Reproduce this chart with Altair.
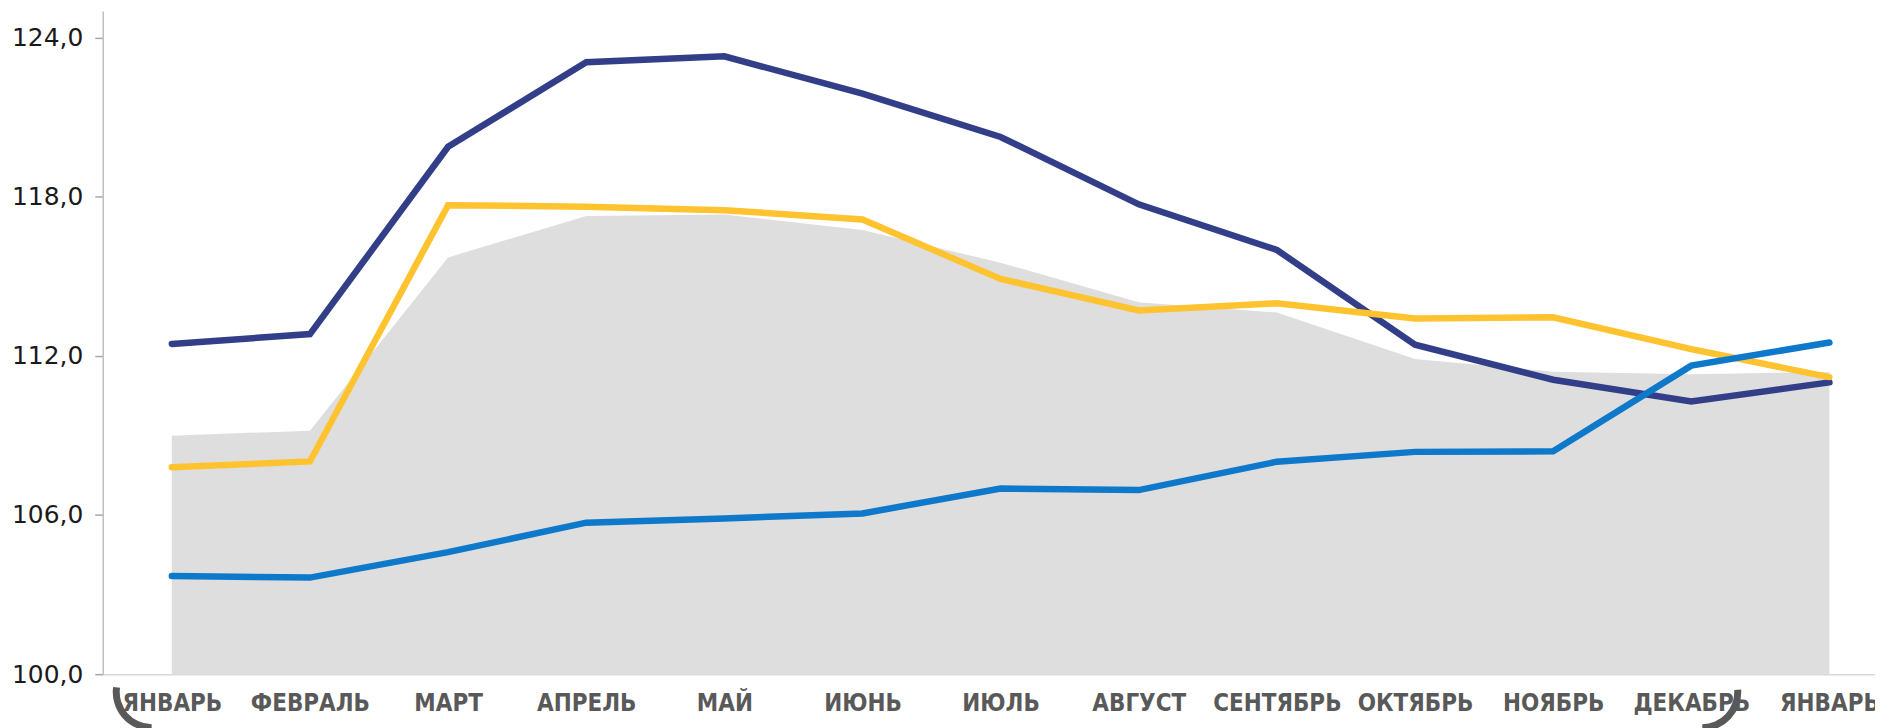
import json
import math
import altair as alt
import pandas as pd

# ---- data ----
months = ["ЯНВАРЬ", "ФЕВРАЛЬ", "МАРТ", "АПРЕЛЬ", "МАЙ", "ИЮНЬ", "ИЮЛЬ",
          "АВГУСТ", "СЕНТЯБРЬ", "ОКТЯБРЬ", "НОЯБРЬ", "ДЕКАБРЬ", "ЯНВАРЬ"]
series_navy = [112.45, 112.82, 119.88, 123.07, 123.29, 121.88, 120.25,
               117.71, 115.99, 112.42, 111.10, 110.28, 111.00]
series_yellow = [107.80, 108.02, 117.68, 117.62, 117.49, 117.14, 114.90,
                 113.71, 113.98, 113.41, 113.45, 112.25, 111.20]
series_blue = [103.70, 103.64, 104.60, 105.71, 105.87, 106.06, 107.00,
               106.94, 108.01, 108.38, 108.40, 111.63, 112.50]
series_gray = [108.99, 109.18, 115.71, 117.27, 117.33, 116.74, 115.51,
               114.02, 113.63, 111.88, 111.40, 111.31, 111.39]
y_ticks = [100, 106, 112, 118, 124]

# decorative bracket arcs around the month labels (centre in category units)
bracket_i = [-0.146, 11.08]
bracket_side = ["left", "right"]

idx = list(range(len(months)))
df = pd.DataFrame({
    "i": idx,
    "month": months,
    "navy": series_navy,
    "yellow": series_yellow,
    "blue": series_blue,
    "gray": series_gray,
})

month_js = json.dumps(months, ensure_ascii=False)

x_scale = alt.Scale(domain=[-0.5, 12.33], nice=False, zero=False)
y_scale = alt.Scale(domain=[100, 125], nice=False, zero=False)

x_enc = alt.X(
    "i:Q",
    scale=x_scale,
    axis=alt.Axis(
        values=idx,
        labelExpr=f"{month_js}[datum.value]",
        title=None,
        grid=False,
        ticks=False,
        domainColor="#D9D9D9",
        domainWidth=1.5,
        labelFont="DejaVu Sans Condensed",
        labelFontWeight="bold",
        labelFontSize=24,
        labelColor="#595959",
        labelPadding=17,
        labelOverlap=False,
        labelFlush=False,
        labelBound=False,
    ),
)

def y_enc(field):
    return alt.Y(
        f"{field}:Q",
        scale=y_scale,
        axis=alt.Axis(
            values=y_ticks,
            labelExpr="replace(format(datum.value, '.1f'), '.', ',')",
            title=None,
            grid=False,
            domainColor="#BFBFBF",
            domainWidth=1.5,
            tickColor="#A6A6A6",
            tickSize=8,
            tickWidth=1.5,
            labelFont="DejaVu Sans",
            labelFontSize=25,
            labelColor="#1A1A1A",
            labelPadding=12,
        ),
    )

base = alt.Chart(df)

area = base.mark_area(color="#DEDEDE").encode(
    x=x_enc, y=y_enc("gray"), y2=alt.datum(100)
)

def line(field, color):
    return base.mark_line(color=color, strokeWidth=6.5, strokeCap="round").encode(
        x=x_enc, y=y_enc(field)
    )

arc_df = pd.DataFrame({"i": bracket_i, "side": bracket_side})
arc_df["t1"] = [math.pi, 1.5]
arc_df["t2"] = [4.85, math.pi]

brackets = alt.Chart(arc_df).mark_arc(
    color="#595959", innerRadius=32, outerRadius=39, clip=False
).encode(
    x=alt.X("i:Q", scale=x_scale),
    y=alt.YDatum(99.32),
    theta=alt.Theta("t1:Q", scale=None),
    theta2="t2:Q",
)

chart = alt.layer(
    area,
    line("navy", "#323F88"),
    line("yellow", "#FFC32F"),
    line("blue", "#0E79CA"),
    brackets,
).properties(
    width=1777,
    height=665,
    autosize=alt.AutoSizeParams(type="none"),
    padding={"left": 95, "top": 2, "right": 0, "bottom": 53},
).configure_view(stroke=None)

chart.save("out.html", embed_options={"renderer": "svg", "actions": False})
